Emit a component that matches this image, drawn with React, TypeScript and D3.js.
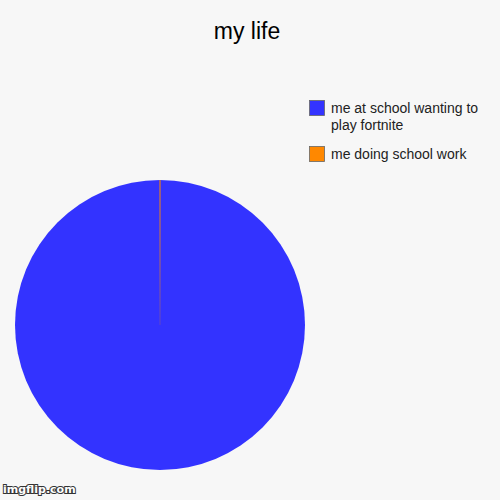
import { pie as d3_pie, arc as d3_arc, scaleOrdinal } from "d3"

const categories = ["me at school wanting to play fortnite", "me doing school work"]
const values = [100, 0]
const colors = ["#3333ff", "#ff8800"]
const legendLines = [["me at school wanting to", "play fortnite"], ["me doing school work"]]
const title = "my life"

const W = 500
const H = 500
const R = 145

export default function App() {
  const color = scaleOrdinal<string, string>().domain(categories).range(colors)
  const data = categories.map((c, i) => ({ name: c, value: values[i] }))
  const slices = d3_pie<{ name: string; value: number }>()
    .sort(null)
    .value((d) => d.value)(data)
  const arcGen = d3_arc<any>().innerRadius(0).outerRadius(R)

  // legend row tops
  const rowY = [100, 146]

  return (
    <div style={{ position: "fixed", inset: 0, background: "#f7f7f7" }}>
      <svg width={W} height={H} style={{ display: "block", fontFamily: "Arial, 'Liberation Sans', sans-serif" }}>
        <defs>
          {/* seam of the empty slice, fading toward the centre */}
          <linearGradient id="seam" gradientUnits="userSpaceOnUse" x1={0} y1={-R} x2={0} y2={0}>
            <stop offset="0%" stopColor="#ff8800" stopOpacity={0.9} />
            <stop offset="100%" stopColor="#ff8800" stopOpacity={0.15} />
          </linearGradient>
        </defs>
        <rect width={W} height={H} fill="#f7f7f7" />
        <text x={247} y={39} textAnchor="middle" fontSize={23} fill="#000">
          {title}
        </text>

        {/* pie */}
        <g transform={`translate(160,325)`}>
          {slices.map((s, i) => (
            <path
              key={i}
              d={arcGen(s) ?? ""}
              fill={color(s.data.name)}
              stroke={s.data.value === 0 ? "url(#seam)" : "none"}
              strokeWidth={0.7}
            />
          ))}
        </g>

        {/* legend */}
        {categories.map((c, i) => (
          <g key={c} transform={`translate(309,${rowY[i]})`}>
            <rect x={0.5} y={0.5} width={15} height={15} fill={color(c)} stroke="#666" strokeWidth={0.8} />
            {legendLines[i].map((t, j) => (
              <text key={j} x={22} y={12.8 + j * 17} fontSize={14} fill="#222">
                {t}
              </text>
            ))}
          </g>
        ))}

        {/* watermark */}
        <text
          x={3}
          y={493}
          fontSize={11}
          fontWeight="bold"
          fill="#fff"
          stroke="#333"
          strokeWidth={2}
          paintOrder="stroke"
          style={{ fontFamily: "Verdana, 'DejaVu Sans', sans-serif" }}
        >
          imgflip.com
        </text>
      </svg>
    </div>
  )
}
